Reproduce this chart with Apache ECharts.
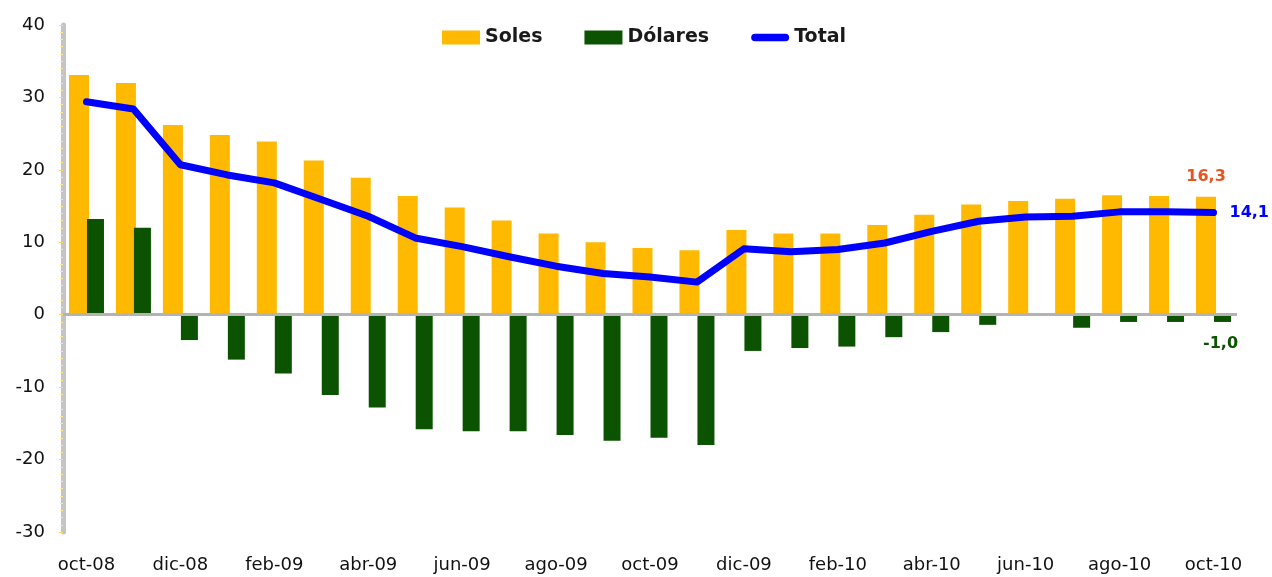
<!DOCTYPE html>
<html>
<head>
<meta charset="utf-8">
<script src="https://cdn.jsdelivr.net/npm/echarts@6/dist/echarts.min.js"></script>
<style>
  html, body { margin: 0; padding: 0; background: #fff; }
  #chart { width: 1272px; height: 577px; }
</style>
</head>
<body>
<div id="chart"></div>
<script>
// meses oct-08 .. oct-10
const months = ['oct-08', 'nov-08', 'dic-08', 'ene-09', 'feb-09', 'mar-09', 'abr-09', 'may-09', 'jun-09',
  'jul-09', 'ago-09', 'sep-09', 'oct-09', 'nov-09', 'dic-09', 'ene-10', 'feb-10', 'mar-10', 'abr-10',
  'may-10', 'jun-10', 'jul-10', 'ago-10', 'sep-10', 'oct-10']
const soles = [33.1, 32.0, 26.2, 24.8, 23.9, 21.3, 18.9, 16.4, 14.8, 13.0, 11.2, 10.0, 9.2, 8.9,
  11.7, 11.2, 11.2, 12.4, 13.8, 15.2, 15.7, 16.0, 16.5, 16.4, 16.3]
const dolares = [13.2, 12.0, -3.5, -6.2, -8.1, -11.1, -12.8, -15.8, -16.1, -16.1, -16.6, -17.4, -17.0, -18.0,
  -5.0, -4.6, -4.4, -3.1, -2.4, -1.4, 0, -1.8, -1.0, -1.0, -1.0]
const total = [29.4, 28.4, 20.7, 19.3, 18.2, 15.9, 13.6, 10.6, 9.4, 8.0, 6.7, 5.7, 5.2, 4.5,
  9.1, 8.7, 9.0, 9.9, 11.5, 12.9, 13.5, 13.6, 14.2, 14.2, 14.1]
const yTicks = [-30, -20, -10, 0, 10, 20, 30, 40]

const fmt = (v) => v.toFixed(1).replace('.', ',')
const last = months.length - 1
const font = 'DejaVu Sans'

const chart = echarts.init(document.getElementById('chart'), null, { renderer: 'canvas' })

chart.setOption({
  animation: false,
  textStyle: { fontFamily: font },
  legend: {
    top: 23,
    left: 437,
    itemWidth: 38,
    itemHeight: 14,
    itemGap: 42,
    textStyle: { fontFamily: font, fontSize: 19, fontWeight: 'bold', color: '#1a1a1a' },
    data: [
      { name: 'Soles', icon: 'rect' },
      { name: 'Dólares', icon: 'rect' },
      // linea gruesa con puntas redondeadas
      { name: 'Total', icon: 'path://M4,0 L36,0 A4,4 0 0 1 36,8 L4,8 A4,4 0 0 1 4,0 Z' },
    ],
  },
  grid: { left: 63, right: 35, top: 25, bottom: 45, containLabel: false },
  xAxis: {
    type: 'category',
    data: months,
    axisLine: { show: false },
    axisTick: { show: false },
    axisLabel: {
      interval: 1,
      margin: 24,
      fontSize: 18,
      color: '#111',
      fontFamily: font,
    },
  },
  yAxis: {
    type: 'value',
    min: yTicks[0],
    max: yTicks[yTicks.length - 1],
    interval: 10,
    axisLine: { show: true, lineStyle: { color: '#c4c4c4', width: 5 } },
    axisTick: { show: true, length: 4, lineStyle: { color: '#ffd966' } },
    minorTick: { show: true, splitNumber: 10, length: 3, lineStyle: { color: '#ffe7a0' } },
    splitLine: { show: false },
    axisLabel: { fontSize: 18, color: '#111', margin: 18, fontFamily: font },
  },
  series: [
    {
      name: 'Soles',
      type: 'bar',
      barWidth: 20,
      itemStyle: { color: '#ffb900' },
      data: soles.map((v, i) => i === last
        ? { value: v, label: { show: true, position: 'top', distance: 12, formatter: fmt(v),
            color: '#e8541e', fontSize: 16, fontWeight: 'bold', fontFamily: font } }
        : v),
      markLine: {
        silent: true,
        symbol: 'none',
        label: { show: false },
        lineStyle: { color: '#b3b3b3', width: 3, type: 'solid' },
        data: [{ yAxis: 0 }],
      },
    },
    {
      name: 'Dólares',
      type: 'bar',
      barWidth: 17,
      barGap: '-10%',
      itemStyle: { color: '#0b5300' },
      data: dolares.map((v, i) => i === last
        ? { value: v, label: { show: true, position: 'bottom', distance: 14, offset: [-2, 0], formatter: fmt(v),
            color: '#0b5300', fontSize: 16, fontWeight: 'bold', fontFamily: font } }
        : v),
    },
    {
      name: 'Total',
      type: 'line',
      symbol: 'none',
      z: 5,
      lineStyle: { color: '#0000ff', width: 7, cap: 'round', join: 'round' },
      itemStyle: { color: '#0000ff' },
      endLabel: {
        show: true,
        formatter: (p) => fmt(p.value),
        color: '#0000ff',
        fontSize: 16,
        fontWeight: 'bold',
        fontFamily: font,
        distance: 16,
      },
      data: total,
    },
  ],
})
</script>
</body>
</html>
